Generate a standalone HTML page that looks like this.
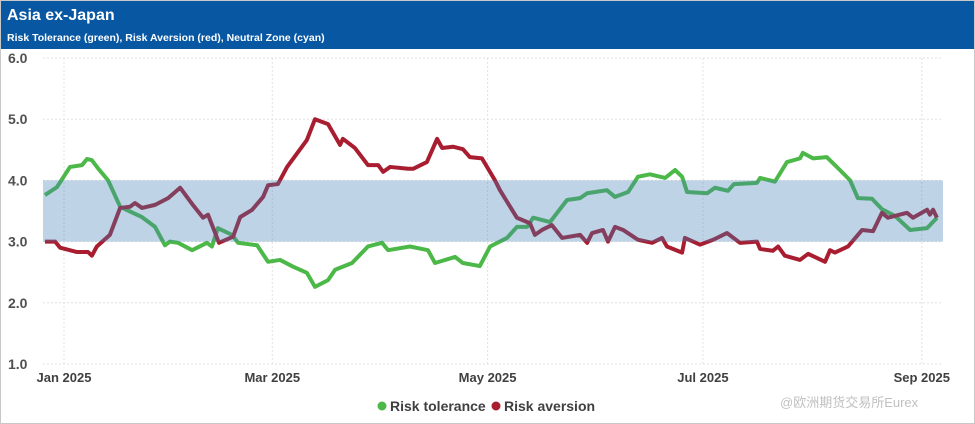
<!DOCTYPE html>
<html><head><meta charset="utf-8"><style>
html,body{margin:0;padding:0;background:#fff;}
body{width:975px;height:424px;overflow:hidden;font-family:"Liberation Sans",sans-serif;}
#wrap{position:absolute;left:0;top:0;width:973px;height:422px;border:1px solid #c8c8c8;}
#titlebar{position:absolute;left:0;top:0;width:973px;height:48px;background:#0757a3;}
#title{position:absolute;left:6px;top:6px;color:#fff;font-weight:bold;font-size:16px;}
#subtitle{position:absolute;left:6px;top:31px;color:#fff;font-weight:bold;font-size:10.5px;}
</style></head><body>
<div id="wrap">
<div id="titlebar">
<div id="title">Asia ex-Japan</div>
<div id="subtitle">Risk Tolerance (green), Risk Aversion (red), Neutral Zone (cyan)</div>
</div>
<svg id="chart" width="975" height="424" style="position:absolute;left:-1px;top:-1px"></svg>
</div>
<script>
const yTicks=[1.0,2.0,3.0,4.0,5.0,6.0];
const xTickLabels=["Jan 2025","Mar 2025","May 2025","Jul 2025","Sep 2025"];
const xTickDays=[0,59,120,181,243];
const neutralZone=[3.0,4.0];
const toleranceDays=[-5.4,-2,1.7,5.1,6.5,7.9,9.6,12.5,15.9,19.5,22.1,25.8,28.6,30,32.3,36.3,40.5,41.9,43.6,47.6,49.3,54.7,57.8,61.2,64.9,68.8,71.1,74.8,76.8,81.6,86.1,90.1,91.8,98,103.1,105.1,110.8,113,117.8,120.7,125.5,128.3,131.2,132.9,137.7,142.5,146.2,148.2,153.8,156.1,159.8,162.6,166,170.3,173.1,175.1,176.5,182.2,184.4,188.1,189.8,196.3,197.2,201.4,204.8,208.5,209.3,212.2,216.1,219.8,222.7,224.9,228.9,231.7,235.4,239.7,244.5,247.3];
const toleranceValues=[3.76,3.89,4.22,4.25,4.35,4.33,4.2,4.0,3.57,3.47,3.40,3.24,2.94,3.0,2.98,2.86,2.98,2.92,3.22,3.11,2.98,2.94,2.67,2.70,2.59,2.49,2.26,2.37,2.54,2.65,2.92,2.98,2.86,2.92,2.86,2.65,2.75,2.65,2.60,2.92,3.06,3.24,3.24,3.39,3.32,3.68,3.71,3.79,3.84,3.73,3.81,4.06,4.10,4.04,4.17,4.06,3.81,3.79,3.88,3.83,3.94,3.96,4.04,3.98,4.30,4.36,4.45,4.36,4.38,4.17,4.0,3.71,3.70,3.53,3.42,3.19,3.22,3.39];
const aversionDays=[-5.4,-2.5,-1.1,3.7,6.8,7.9,9.3,13,15.9,18.7,20.1,22.1,25.8,29.5,32.9,36.5,39.4,40.8,43.9,47.9,49.9,53.3,56.4,57.8,60.6,63.2,68.8,71.1,74.8,78.2,79,82.4,86.1,89,90.4,92.4,97.5,98.9,102.8,105.7,107.1,110.2,113,115,118.4,122.1,123.5,128.3,132,133.4,135.4,138.2,141.1,146.2,148.2,149.6,152.7,154.1,156.1,158.4,162.6,166.6,169.4,170.8,175.1,175.9,180.2,183.9,187.8,191.5,196.3,197.2,200.8,202.3,204.2,208.5,210.8,215.6,217,218.4,222.1,226.1,229.2,231.7,233.4,238.8,240.5,244.5,245.3,246.2,247.3];
const aversionValues=[3.0,3.0,2.9,2.83,2.83,2.77,2.92,3.11,3.55,3.57,3.63,3.55,3.60,3.71,3.88,3.60,3.39,3.44,2.98,3.08,3.40,3.52,3.73,3.92,3.94,4.22,4.66,5.0,4.92,4.58,4.68,4.53,4.25,4.25,4.14,4.22,4.19,4.19,4.30,4.68,4.53,4.55,4.51,4.38,4.36,4.0,3.84,3.39,3.30,3.11,3.19,3.27,3.06,3.11,2.98,3.14,3.19,3.0,3.24,3.19,3.03,2.98,3.06,2.92,2.82,3.06,2.95,3.03,3.14,2.98,3.0,2.88,2.85,2.92,2.77,2.70,2.80,2.67,2.86,2.82,2.92,3.19,3.17,3.47,3.39,3.47,3.39,3.52,3.44,3.52,3.39];

const NS="http://www.w3.org/2000/svg";
const svg=document.getElementById('chart');
const X=d=>64+d*3.53;
const Y=v=>364-(v-1)*61.2;
const PL=43,PR=943;
function mk(tag,attrs,parent){const e=document.createElementNS(NS,tag);for(const k in attrs)e.setAttribute(k,attrs[k]);(parent||svg).appendChild(e);return e;}

yTicks.forEach(t=>{
  const g=mk('line',{x1:PL,x2:PR,y1:Y(t),y2:Y(t),stroke:'#e2e2e2','stroke-dasharray':'2,2'});
  
  
  const tx=mk('text',{x:8,y:Y(t)+5,'font-size':'14','font-weight':'bold',fill:'#505050','font-family':'Liberation Sans, sans-serif'});
  tx.textContent=t.toFixed(1);
  
  
});
xTickDays.forEach((d,i)=>{
  const g=mk('line',{x1:X(d),x2:X(d),y1:Y(6),y2:Y(1),stroke:'#e2e2e2','stroke-dasharray':'2,2'});
  
  
  const tx=mk('text',{x:X(d),y:382,'font-size':'13','font-weight':'bold',fill:'#404040','text-anchor':'middle','font-family':'Liberation Sans, sans-serif'});
  tx.textContent=xTickLabels[i];
  
  
});
function line(days,vals,color,name){
  const p=mk('polyline',{points:days.map((d,i)=>X(d)+','+Y(vals[i])).join(' '),fill:'none',stroke:color,'stroke-width':'4','stroke-linejoin':'round'});
  
  
}
line(toleranceDays,toleranceValues,'#4cb848','risk-tolerance-line');
line(aversionDays,aversionValues,'#a81d30','risk-aversion-line');
const band=mk('rect',{x:PL,y:Y(neutralZone[1]),width:PR-PL,height:Y(neutralZone[0])-Y(neutralZone[1]),fill:'rgba(70,130,180,0.35)'});



const lg=mk('g',{});


const c1=mk('circle',{cx:382,cy:406,r:4.5,fill:'#4cb848'},lg);


const t1=mk('text',{x:390,y:411,'font-size':'14','font-weight':'bold',fill:'#404040','font-family':'Liberation Sans, sans-serif'},lg);
t1.textContent='Risk tolerance';


const c2=mk('circle',{cx:496,cy:406,r:4.5,fill:'#a81d30'},lg);


const t2=mk('text',{x:504,y:411,'font-size':'14','font-weight':'bold',fill:'#404040','font-family':'Liberation Sans, sans-serif'},lg);
t2.textContent='Risk aversion';



const wm=mk('text',{x:780,y:407,'font-size':'13',fill:'rgba(150,150,150,0.6)','font-family':'Liberation Sans, Noto Sans CJK SC, sans-serif'});
wm.textContent='@欧洲期货交易所Eurex';


</script>
</body></html>
